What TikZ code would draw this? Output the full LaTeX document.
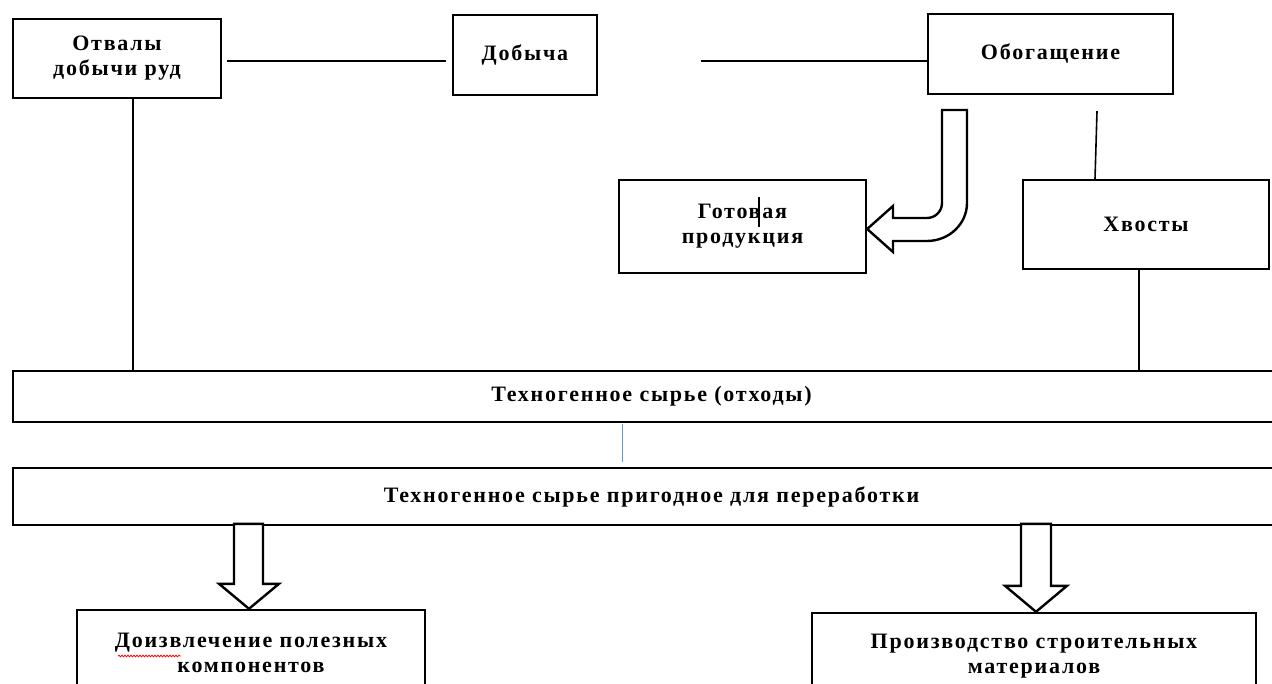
\documentclass[tikz,border=0pt]{standalone}
\usepackage{fontspec}
\setmainfont{Liberation Serif}
\newfontfamily\lbl[LetterSpace=8]{Liberation Serif}
\usetikzlibrary{calc,decorations.pathmorphing}
\definecolor{lblue}{RGB}{95,150,205}
\tikzset{
  box/.style={draw, line width=2.4pt, fill=white, align=center, inner sep=0pt,
    font=\lbl\bfseries\fontsize{22}{25}\selectfont},
  wire/.style={draw, line width=1.6pt},
  bluewire/.style={draw=lblue, line width=1pt},
  fatarrow/.style={draw, line width=2.4pt, fill=white, line join=miter},
}
\begin{document}
\begin{tikzpicture}[x=1pt,y=-1pt]
\useasboundingbox (0,0) rectangle (1272,684);
\clip (0,0) rectangle (1272,684);
\fill[white] (0,0) rectangle (1272,684);

% top row
\node[box, minimum width=208pt, minimum height=79pt] (otv) at (117,58.5) {Отвалы\\добычи руд};
\node[box, minimum width=144pt, minimum height=80pt] (dob) at (525,55) {Добыча};
\node[box, minimum width=245pt, minimum height=80pt] (obo) at (1050.5,54) {Обогащение};
% second row
\node[box, minimum width=247pt, minimum height=93pt] (got) at (742.5,226.5) {Готовая\\продукция};
\node[box, minimum width=246pt, minimum height=89pt] (hvo) at (1146,224.5) {Хвосты};
% bars
\node[box, minimum width=1277pt, minimum height=51pt] (bar1) at (651.5,396.5) {Техногенное сырье (отходы)};
\node[box, minimum width=1277pt, minimum height=57pt] (bar2) at (651.5,496.5) {Техногенное сырье пригодное для переработки};
% bottom boxes
\node[box, minimum width=348pt, minimum height=86pt] (doi) at (251,653) {Доизвлечение полезных\\компонентов};
\node[box, minimum width=444pt, minimum height=86pt] (pro) at (1034,656) {Производство строительных\\материалов};

% connectors
\draw[wire] ($(otv.east)+(5,2.5)$) -- ($(dob.west)+(-6,6)$);
\draw[wire] ($(dob.east)+(103,6)$) -- ($(obo.west)+(0,7)$);
\draw[wire] ($(obo.south)+(46.5,16)$) -- ($(hvo.north)+(-51,0)$);
\coordinate (c1) at ($(otv.south)+(16,0)$);
\draw[wire] (c1) -- (c1 |- bar1.north);
\coordinate (c2) at ($(hvo.south)+(-7,0)$);
\draw[wire] (c2) -- (c2 |- bar1.north);
\coordinate (c3) at ($(bar1.south)+(-29.5,1)$);
\draw[bluewire] (c3) -- ($(c3 |- bar2.north)+(0,-5)$);

% U-turn block arrow from Обогащение to Готовая продукция
\draw[fatarrow] ($(got.east)+(0,2.5)$) -- (893,206) -- (893,218) -- (927,218)
  .. controls (935.3,218) and (942,211.3) .. (942,203) -- (942,110) -- (967,110) -- (967,203)
  .. controls (967,224) and (949,241) .. (927,241) -- (893,241) -- (893,252) -- cycle;

% down block arrows
\draw[fatarrow] ($(doi.north)+(-2,0)$) -- ++(-30,-25) -- ++(15,0) -- ++(0,-60) -- ++(29,0) -- ++(0,60) -- ++(16,0) -- cycle;
\draw[fatarrow] ($(pro.north)+(2,0)$) -- ++(-31,-26) -- ++(16,0) -- ++(0,-62) -- ++(30,0) -- ++(0,62) -- ++(16,0) -- cycle;

% text cursor and spell-check underline as seen in the reference
\draw[line width=1.8pt] (759,197) -- (759,227);
\draw[red, line width=0.8pt, decorate, decoration={snake, amplitude=0.8pt, segment length=3pt}] (118,656) -- (181,656);
\end{tikzpicture}
\end{document}
